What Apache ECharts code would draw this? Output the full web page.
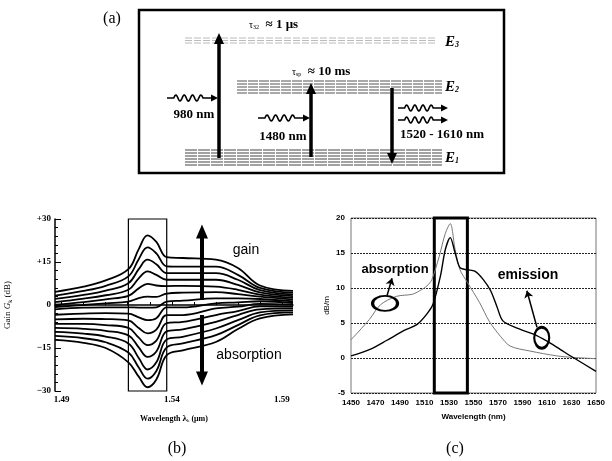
<!DOCTYPE html>
<html>
<head>
<meta charset="utf-8">
<script src="https://cdn.jsdelivr.net/npm/echarts@6/dist/echarts.min.js"></script>
<style>
  html, body { margin: 0; padding: 0; background: #fff; }
  #main { width: 612px; height: 461px; }
</style>
</head>
<body>
<div id="main"></div>
<script>
// panel (b): gain / absorption curves of the fibre, one list per pump level
var gainWave = [1.487, 1.50, 1.51, 1.5203, 1.525, 1.529, 1.533, 1.5377, 1.545, 1.56, 1.57, 1.58, 1.595];
var gain0  = [4.6, 6.4, 8.6, 12.5, 19.5, 24.3, 22.0, 16.7, 16.4, 15.8, 12.9, 6.8, 4.9];
var gain1  = [3.3, 4.9, 6.7, 10.0, 16.0, 20.1, 18.0, 13.5, 13.4, 13.4, 10.5, 6.0, 4.3];
var gain2  = [2.1, 3.5, 5.0, 7.6, 12.5, 15.8, 14.2, 11.1, 11.1, 11.1, 8.8, 5.2, 3.7];
var gain3  = [1.0, 2.2, 3.4, 5.3, 9.3, 11.7, 10.5, 8.8, 8.8, 8.8, 7.0, 4.4, 3.1];
var gain4  = [0.1, 1.0, 2.0, 3.2, 5.8, 7.4, 6.8, 6.6, 6.7, 6.4, 5.3, 3.6, 2.5];
var gain5  = [-0.7, 0.0, 0.6, 1.2, 2.4, 2.9, 2.8, 4.0, 4.3, 4.5, 3.8, 2.9, 1.9];
var gain6  = [-1.5, -0.9, -0.8, -0.8, -0.9, -0.9, -0.8, 1.2, 1.5, 2.3, 2.3, 2.1, 1.3];
var gain7  = [-3.4, -3.0, -2.8, -3.0, -4.3, -5.3, -4.6, -0.8, -0.8, 0.6, 0.9, 1.3, 0.7];
var gain8  = [-5.0, -4.8, -4.9, -5.4, -8.0, -9.9, -8.6, -3.5, -3.5, -1.2, -0.6, 0.4, 0.1];
var gain9  = [-6.6, -6.6, -7.0, -8.0, -11.4, -14.0, -12.4, -6.3, -5.9, -3.5, -2.1, -0.5, -0.6];
var gain10 = [-8.0, -8.3, -9.0, -10.6, -14.8, -18.1, -16.2, -9.2, -8.5, -5.9, -3.5, -1.5, -1.2];
var gain11 = [-9.4, -10.0, -11.0, -13.4, -18.5, -22.5, -20.0, -12.0, -11.1, -8.2, -5.3, -2.6, -1.9];
var gain12 = [-10.8, -11.6, -13.0, -16.6, -21.8, -25.7, -23.0, -14.8, -13.4, -10.5, -7.0, -3.6, -2.6];
var gain13 = [-12.2, -13.2, -15.0, -20.0, -25.0, -28.7, -26.0, -17.5, -15.8, -12.9, -8.4, -4.7, -3.3];
var gainCurves = [gain0, gain1, gain2, gain3, gain4, gain5, gain6, gain7, gain8, gain9, gain10, gain11, gain12, gain13];
var gainBand = [1.5203, 1.5377];
var gainTicks = [1.49, 1.50, 1.51, 1.52, 1.53, 1.54, 1.55, 1.56, 1.57, 1.58, 1.59];
var gainLabels = [1.49, 1.54, 1.59];

// panel (c): cross sections in dB/m
var absWave = [1450, 1465, 1474, 1487, 1500, 1506, 1512, 1516, 1522, 1527, 1531, 1535, 1539, 1545, 1555, 1563, 1572, 1580, 1596, 1618, 1630, 1650];
var absVal  = [2.6, 5.5, 7.6, 8.8, 9.1, 9.6, 10.3, 11.2, 14.5, 17.8, 19.2, 15.5, 12.6, 10.8, 7.9, 5.2, 3.1, 1.7, 1.0, 0.3, 0.1, -0.1];
var emWave = [1450, 1465, 1479, 1493, 1504, 1512, 1517, 1523, 1527, 1531, 1535, 1539, 1545, 1551, 1558, 1564, 1569, 1574, 1585, 1599, 1610, 1621, 1632, 1650];
var emVal  = [0.3, 1.2, 2.5, 3.9, 4.8, 6.3, 7.7, 11.7, 15.5, 17.2, 15.0, 12.9, 12.6, 12.4, 11.2, 9.6, 7.4, 5.3, 4.3, 3.4, 2.4, 1.2, 0.0, -1.9];
var emBand = [1518, 1545];

function pairs(xs, ys) {
  return xs.map(function (x, i) { return [x, ys[i]]; });
}

// little wavy photon arrow for the level diagram
function wavyArrow(x0, x1, y) {
  var pts = [];
  var w = x1 - x0 - 6;
  for (var i = 0; i <= 80; i++) {
    var t = i / 80;
    var a = (t > 0.15 && t < 0.8) ? 3 : 0;
    pts.push([x0 + w * t, y - a * Math.sin((t - 0.15) / 0.65 * Math.PI * 7)]);
  }
  return [
    { type: 'polyline', shape: { points: pts }, style: { stroke: '#000', lineWidth: 1.6, fill: null } },
    { type: 'polygon', shape: { points: [[x1, y], [x1 - 7, y - 3.5], [x1 - 7, y + 3.5]] }, style: { fill: '#000' } }
  ];
}

function upArrow(x, yFrom, yTip, up) {
  var d = up ? 1 : -1;
  return [
    { type: 'line', shape: { x1: x, y1: yFrom, x2: x, y2: yTip + d * 9 }, style: { stroke: '#000', lineWidth: 3.5 } },
    { type: 'polygon', shape: { points: [[x, yTip], [x - 5, yTip + d * 11], [x + 5, yTip + d * 11]] }, style: { fill: '#000' } }
  ];
}

function band(x1, x2, ys, color, dash) {
  return ys.map(function (y) {
    return { type: 'line', shape: { x1: x1, y1: y, x2: x2, y2: y }, style: { stroke: color, lineWidth: 1, lineDash: dash } };
  });
}

var serif = 'Liberation Serif';
var sans = 'Liberation Sans';

var graphics = [
  { type: 'rect', shape: { x: 139, y: 10, width: 365, height: 163 }, style: { stroke: '#000', lineWidth: 2.5, fill: null } },
  { type: 'text', style: { text: '(a)', x: 112, y: 19, textAlign: 'center', textVerticalAlign: 'middle', font: '16px ' + serif, fill: '#000' } },
  { type: 'text', style: { text: '(b)', x: 177, y: 449, textAlign: 'center', textVerticalAlign: 'middle', font: '16px ' + serif, fill: '#000' } },
  { type: 'text', style: { text: '(c)', x: 455, y: 449, textAlign: 'center', textVerticalAlign: 'middle', font: '16px ' + serif, fill: '#000' } },
  {
    type: 'text', style: {
      text: '{t|τ}{s|32}{n|  ≈ 1 μs}', x: 249, y: 25, textVerticalAlign: 'middle', fill: '#000',
      rich: { t: { fontSize: 10, fontFamily: serif }, s: { fontSize: 6, fontFamily: serif, padding: [5, 0, 0, 0] }, n: { fontSize: 13, fontFamily: serif, fontWeight: 'bold' } }
    }
  },
  {
    type: 'text', style: {
      text: '{t|τ}{s|sp}{n|  ≈ 10 ms}', x: 292, y: 72, textVerticalAlign: 'middle', fill: '#000',
      rich: { t: { fontSize: 10, fontFamily: serif }, s: { fontSize: 6, fontFamily: serif, padding: [5, 0, 0, 0] }, n: { fontSize: 13, fontFamily: serif, fontWeight: 'bold' } }
    }
  },
  { type: 'text', style: { text: '980 nm', x: 194, y: 115, textAlign: 'center', textVerticalAlign: 'middle', font: 'bold 13px ' + serif, fill: '#000' } },
  { type: 'text', style: { text: '1480 nm', x: 283, y: 137, textAlign: 'center', textVerticalAlign: 'middle', font: 'bold 13px ' + serif, fill: '#000' } },
  { type: 'text', style: { text: '1520 - 1610 nm', x: 442, y: 135, textAlign: 'center', textVerticalAlign: 'middle', font: 'bold 13px ' + serif, fill: '#000' } }
];

['3', '2', '1'].forEach(function (n, i) {
  graphics.push({
    type: 'text', style: {
      text: '{e|E}{s|' + n + '}', x: 445, y: [42, 87, 158][i], textVerticalAlign: 'middle', fill: '#000',
      rich: { e: { fontSize: 15, fontFamily: serif, fontWeight: 'bold', fontStyle: 'italic' }, s: { fontSize: 8, fontFamily: serif, fontWeight: 'bold', fontStyle: 'italic', padding: [6, 0, 0, 0] } }
    }
  });
});

graphics = graphics
  .concat(band(185, 437, [38, 40.5, 43], '#bbb', [7, 2]))
  .concat(band(237, 442, [81, 84, 87, 90, 93], '#555', [10, 1]))
  .concat(band(185, 442, [150, 153, 156, 159, 162, 165], '#444', [12, 1]))
  .concat(upArrow(219, 158, 33, true))
  .concat(upArrow(311, 157, 83, true))
  .concat(upArrow(392, 88, 164, false))
  .concat(wavyArrow(167, 218, 98))
  .concat(wavyArrow(258, 310, 118))
  .concat(wavyArrow(398, 448, 108))
  .concat(wavyArrow(398, 448, 120))
  .concat([
    { type: 'text', style: { text: 'gain', x: 246, y: 250, textAlign: 'center', textVerticalAlign: 'middle', font: '14px ' + sans, fill: '#000' } },
    { type: 'text', style: { text: 'absorption', x: 395, y: 269, textAlign: 'center', textVerticalAlign: 'middle', font: 'bold 13px ' + sans, fill: '#000' } },
    { type: 'text', style: { text: 'absorption', x: 249, y: 355, textAlign: 'center', textVerticalAlign: 'middle', font: '14px ' + sans, fill: '#000' } },
    { type: 'text', style: { text: 'emission', x: 528, y: 275, textAlign: 'center', textVerticalAlign: 'middle', font: 'bold 14px ' + sans, fill: '#000' } }
  ]);

var gainSeries = gainCurves.map(function (c, i) {
  var s = {
    type: 'line', xAxisIndex: 0, yAxisIndex: 0, data: pairs(gainWave, c),
    smooth: 0.4, showSymbol: false, silent: true, clip: false,
    lineStyle: { color: '#000', width: 1.8 }
  };
  if (i === 0) {
    s.markArea = {
      silent: true,
      itemStyle: { color: 'rgba(0,0,0,0)', borderColor: '#000', borderWidth: 1.2 },
      data: [[{ xAxis: gainBand[0], yAxis: -30 }, { xAxis: gainBand[1], yAxis: 31.6 }]]
    };
    s.markLine = {
      silent: true, symbol: ['none', 'triangle'], symbolSize: [12, 14],
      lineStyle: { color: '#000', width: 4, type: 'solid' }, label: { show: false },
      data: [
        [{ coord: [1.5537, 1.75] }, { coord: [1.5537, 25.6] }],
        [{ coord: [1.5537, -3.5] }, { coord: [1.5537, -25.6] }]
      ]
    };
  }
  return s;
});

var ring = { color: 'rgba(0,0,0,0)', borderColor: '#000', borderWidth: 2.5 };

var chart = echarts.init(document.getElementById('main'));
chart.setOption({
  animation: false,
  backgroundColor: '#fff',
  graphic: graphics,
  grid: [
    { left: 55, top: 219, width: 238, height: 172, outerBoundsMode: 'none' },
    { left: 351, top: 218, width: 245, height: 175, show: true, borderColor: '#777', borderWidth: 1, outerBoundsMode: 'none' }
  ],
  xAxis: [
    {
      gridIndex: 0, type: 'value', min: 1.487, max: 1.595,
      name: '{n|Wavelength }{i|λ}{s|k}{n| (μm)}', nameLocation: 'middle', nameGap: 23,
      nameTextStyle: {
        rich: {
          n: { fontFamily: serif, fontWeight: 'bold', fontSize: 8, color: '#000' },
          i: { fontFamily: serif, fontWeight: 'bold', fontSize: 9, color: '#000' },
          s: { fontFamily: serif, fontSize: 5, color: '#000', padding: [4, 0, 0, 0] }
        }
      },
      axisLine: { show: true, lineStyle: { color: '#000', width: 1.5 } },
      axisTick: { show: true, inside: true, length: 3, customValues: gainTicks, lineStyle: { color: '#000' } },
      axisLabel: {
        customValues: gainLabels, formatter: function (v) { return v.toFixed(2); },
        fontFamily: serif, fontWeight: 'bold', fontSize: 9, color: '#000', margin: 4
      },
      splitLine: { show: false }
    },
    {
      gridIndex: 1, type: 'value', min: 1450, max: 1650, interval: 20,
      name: 'Wavelength (nm)', nameLocation: 'middle', nameGap: 20,
      nameTextStyle: { fontFamily: sans, fontWeight: 'bold', fontSize: 8, color: '#000' },
      axisLine: { show: false },
      axisTick: { show: false },
      axisLabel: {
        formatter: function (v) { return String(v); },
        fontFamily: sans, fontWeight: 'bold', fontSize: 8, color: '#000', margin: 6, hideOverlap: false
      },
      splitLine: { show: false }
    }
  ],
  yAxis: [
    {
      gridIndex: 0, type: 'value', min: -30, max: 30, interval: 15,
      name: '{n|Gain }{i|G}{s|k}{n| (dB)}', nameLocation: 'middle', nameGap: 42,
      nameTextStyle: {
        rich: {
          n: { fontFamily: serif, fontSize: 9, color: '#000' },
          i: { fontFamily: serif, fontStyle: 'italic', fontSize: 9, color: '#000' },
          s: { fontFamily: serif, fontSize: 6, color: '#000', padding: [4, 0, 0, 0] }
        }
      },
      axisLine: { show: true, lineStyle: { color: '#000', width: 1.5 } },
      axisTick: { show: true, inside: true, length: 6, lineStyle: { color: '#000' } },
      minorTick: { show: true, splitNumber: 5, length: 3, lineStyle: { color: '#000' } },
      axisLabel: {
        formatter: function (v) { return v > 0 ? '+' + v : (v < 0 ? '\u2212' + (-v) : '0'); },
        fontFamily: serif, fontWeight: 'bold', fontSize: 9, color: '#000', margin: 4
      },
      splitLine: { show: false }
    },
    {
      gridIndex: 1, type: 'value', min: -5, max: 20, interval: 5,
      name: 'dB/m', nameLocation: 'middle', nameGap: 20,
      nameTextStyle: { fontFamily: sans, fontSize: 8, color: '#000' },
      axisLine: { show: false },
      axisTick: { show: false },
      axisLabel: { fontFamily: sans, fontWeight: 'bold', fontSize: 8, color: '#000', margin: 6 },
      splitLine: { show: true, lineStyle: { color: '#222', width: 1, type: [2, 1] } }
    }
  ],
  series: gainSeries.concat([
    {
      type: 'line', name: 'absorption', xAxisIndex: 1, yAxisIndex: 1, data: pairs(absWave, absVal),
      smooth: 0.3, showSymbol: false, silent: true,
      lineStyle: { color: '#777', width: 1 },
      markPoint: {
        silent: true, symbol: 'circle', symbolSize: [25, 15], itemStyle: ring, label: { show: false },
        data: [{ coord: [1477.8, 7.8] }]
      },
      markLine: {
        silent: true, symbol: ['none', 'arrow'], symbolSize: 7,
        lineStyle: { color: '#000', width: 1.5, type: 'solid' }, label: { show: false },
        data: [[{ coord: [1479.4, 8.9] }, { coord: [1483.5, 11.4] }]]
      }
    },
    {
      type: 'line', name: 'emission', xAxisIndex: 1, yAxisIndex: 1, data: pairs(emWave, emVal),
      smooth: 0.3, showSymbol: false, silent: true, clip: false,
      lineStyle: { color: '#000', width: 1.4 },
      markArea: {
        silent: true,
        itemStyle: { color: 'rgba(0,0,0,0)', borderColor: '#000', borderWidth: 3 },
        data: [[{ xAxis: emBand[0], yAxis: -5 }, { xAxis: emBand[1], yAxis: 20 }]]
      },
      markPoint: {
        silent: true, symbol: 'circle', symbolSize: [15, 21], itemStyle: ring, label: { show: false },
        data: [{ coord: [1605.7, 2.9] }]
      },
      markLine: {
        silent: true, symbol: ['none', 'arrow'], symbolSize: 7,
        lineStyle: { color: '#000', width: 1.5, type: 'solid' }, label: { show: false },
        data: [[{ coord: [1601.8, 4.4] }, { coord: [1593.6, 9.6] }]]
      }
    }
  ])
});
</script>
</body>
</html>
